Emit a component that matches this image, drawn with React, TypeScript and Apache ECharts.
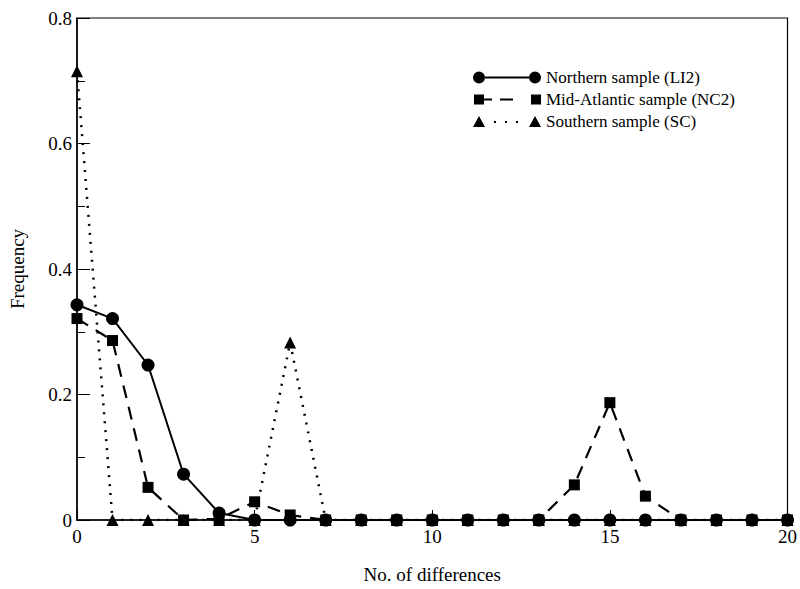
import React, { useEffect, useRef } from "react";
import * as echarts from "echarts";

const xValues = [0, 1, 2, 3, 4, 5, 6, 7, 8, 9, 10, 11, 12, 13, 14, 15, 16, 17, 18, 19, 20];
const northern = [0.343, 0.321, 0.247, 0.073, 0.011, 0, 0, 0, 0, 0, 0, 0, 0, 0, 0, 0, 0, 0, 0, 0, 0];
const midAtlantic = [0.321, 0.286, 0.052, 0, 0.002, 0.029, 0.008, 0, 0, 0, 0, 0, 0, 0, 0.056, 0.187, 0.038, 0, 0, 0, 0];
const southern = [0.715, 0, 0, 0, 0, 0, 0.283, 0, 0, 0, 0, 0, 0, 0, 0, 0, 0, 0, 0, 0, 0];
const seriesNames = ["Northern sample (LI2)", "Mid-Atlantic sample (NC2)", "Southern sample (SC)"];

const FONT = "'Liberation Serif', 'DejaVu Serif', serif";

// legend icons: marker - line - marker (viewBox 68 x 12)
const iconCircle =
  "path://M0,6a6,6 0 1,0 12,0a6,6 0 1,0 -12,0Z M12,5L56,5L56,7L12,7Z M56,6a6,6 0 1,0 12,0a6,6 0 1,0 -12,0Z";
const iconSquare =
  "path://M1,1L11,1L11,11L1,11Z M11,5L19,5L19,7L11,7Z M27,5L40,5L40,7L27,7Z M58,1L68,1L68,11L58,11Z M0,0L0,0Z M0,12L0,12Z";
const iconTriangle =
  "path://M0,11L6,0L12,11Z M21,5L23,5L23,7L21,7Z M32,5L34,5L34,7L32,7Z M43,5L45,5L45,7L43,7Z M56,11L62,0L68,11Z";

const pair = (ys: number[]) => xValues.map((x, i) => [x, ys[i]]);

export default function App() {
  const ref = useRef<HTMLDivElement>(null);
  useEffect(() => {
    if (!ref.current) return;
    const chart = echarts.init(ref.current, null, { renderer: "svg" });
    chart.setOption({
      animation: false,
      backgroundColor: "#fff",
      textStyle: { fontFamily: FONT, color: "#000" },
      grid: {
        left: 77,
        right: 7,
        top: 18,
        bottom: 68,
        show: true,
        borderColor: "#000",
        borderWidth: 1.2,
        backgroundColor: "transparent",
      },
      legend: {
        left: 468,
        top: 64,
        orient: "vertical",
        itemWidth: 68,
        itemHeight: 12,
        itemGap: 5,
        align: "left",
        textStyle: { fontFamily: FONT, fontSize: 17, color: "#000" },
        data: [
          { name: seriesNames[0], icon: iconCircle },
          { name: seriesNames[1], icon: iconSquare },
          { name: seriesNames[2], icon: iconTriangle },
        ],
      },
      xAxis: {
        type: "value",
        min: 0,
        max: 20,
        interval: 5,
        name: "No. of differences",
        nameLocation: "middle",
        nameGap: 45,
        nameTextStyle: { fontFamily: FONT, fontSize: 19, color: "#000" },
        axisLine: { lineStyle: { color: "#000", width: 1.5 } },
        axisTick: { inside: true, length: 10, lineStyle: { color: "#000", width: 1 } },
        minorTick: { show: true, splitNumber: 5, length: 5, lineStyle: { color: "#000", width: 1 } },
        axisLabel: { fontFamily: FONT, fontSize: 19, color: "#000", margin: 7 },
        splitLine: { show: false },
      },
      yAxis: {
        type: "value",
        min: 0,
        max: 0.8,
        interval: 0.2,
        name: "Frequency",
        nameLocation: "middle",
        nameGap: 50,
        nameTextStyle: { fontFamily: FONT, fontSize: 19, color: "#000" },
        axisLine: { lineStyle: { color: "#000", width: 1.5 } },
        axisTick: { inside: true, length: 13, lineStyle: { color: "#000", width: 1 } },
        minorTick: { show: true, splitNumber: 2, length: 8, lineStyle: { color: "#000", width: 1 } },
        axisLabel: { fontFamily: FONT, fontSize: 19, color: "#000", margin: 5 },
        splitLine: { show: false },
      },
      series: [
        {
          name: seriesNames[2],
          type: "line",
          data: pair(southern),
          symbol: "triangle",
          symbolSize: 12,
          z: 2,
          itemStyle: { color: "#000" },
          lineStyle: { color: "#000", width: 2.5, type: [2, 7] },
        },
        {
          name: seriesNames[1],
          type: "line",
          data: pair(midAtlantic),
          symbol: "rect",
          symbolSize: 11,
          z: 3,
          itemStyle: { color: "#000" },
          lineStyle: { color: "#000", width: 2.2, type: [13, 9] },
        },
        {
          name: seriesNames[0],
          type: "line",
          data: pair(northern),
          symbol: "circle",
          symbolSize: 13,
          z: 4,
          itemStyle: { color: "#000" },
          lineStyle: { color: "#000", width: 2 },
        },
      ],
    });
    return () => chart.dispose();
  }, []);
  return (
    <div
      ref={ref}
      style={{ position: "fixed", left: 0, top: 0, width: 800, height: 589 }}
    />
  );
}
